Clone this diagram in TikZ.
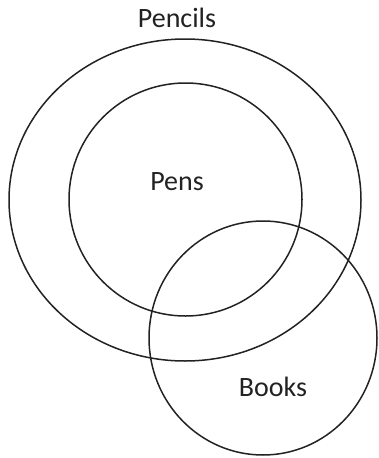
\documentclass[tikz,border=0pt]{standalone}
\usepackage{fontspec}
\setmainfont{Carlito}
\usetikzlibrary{positioning,shapes.geometric}
\definecolor{Ink}{HTML}{222222}

\begin{document}
\begin{tikzpicture}[x=1pt,y=-1pt,
    set/.style={ellipse,draw=Ink,line width=1.5pt,inner sep=0pt},
    setname/.style={font=\fontsize{28}{32}\selectfont,text=Ink,inner sep=0pt}
  ]
    \useasboundingbox (0,0) rectangle (378,458);
    \node[set,minimum width=352pt,minimum height=322pt] (pencils) at (185,200) {};
    \node[set,minimum width=233pt,minimum height=233pt] (pens) at (185.5,199.5) {};
    \node[set,minimum width=228pt,minimum height=234pt] (books) at (263,338) {};
    \node[setname,above=10pt of pencils.north,xshift=-8pt] (pencilsname) {Pencils};
    \node[setname] (pensname) at (177,182) {Pens};
    \node[setname] (booksname) at (273,387) {Books};
  \end{tikzpicture}
\end{document}
